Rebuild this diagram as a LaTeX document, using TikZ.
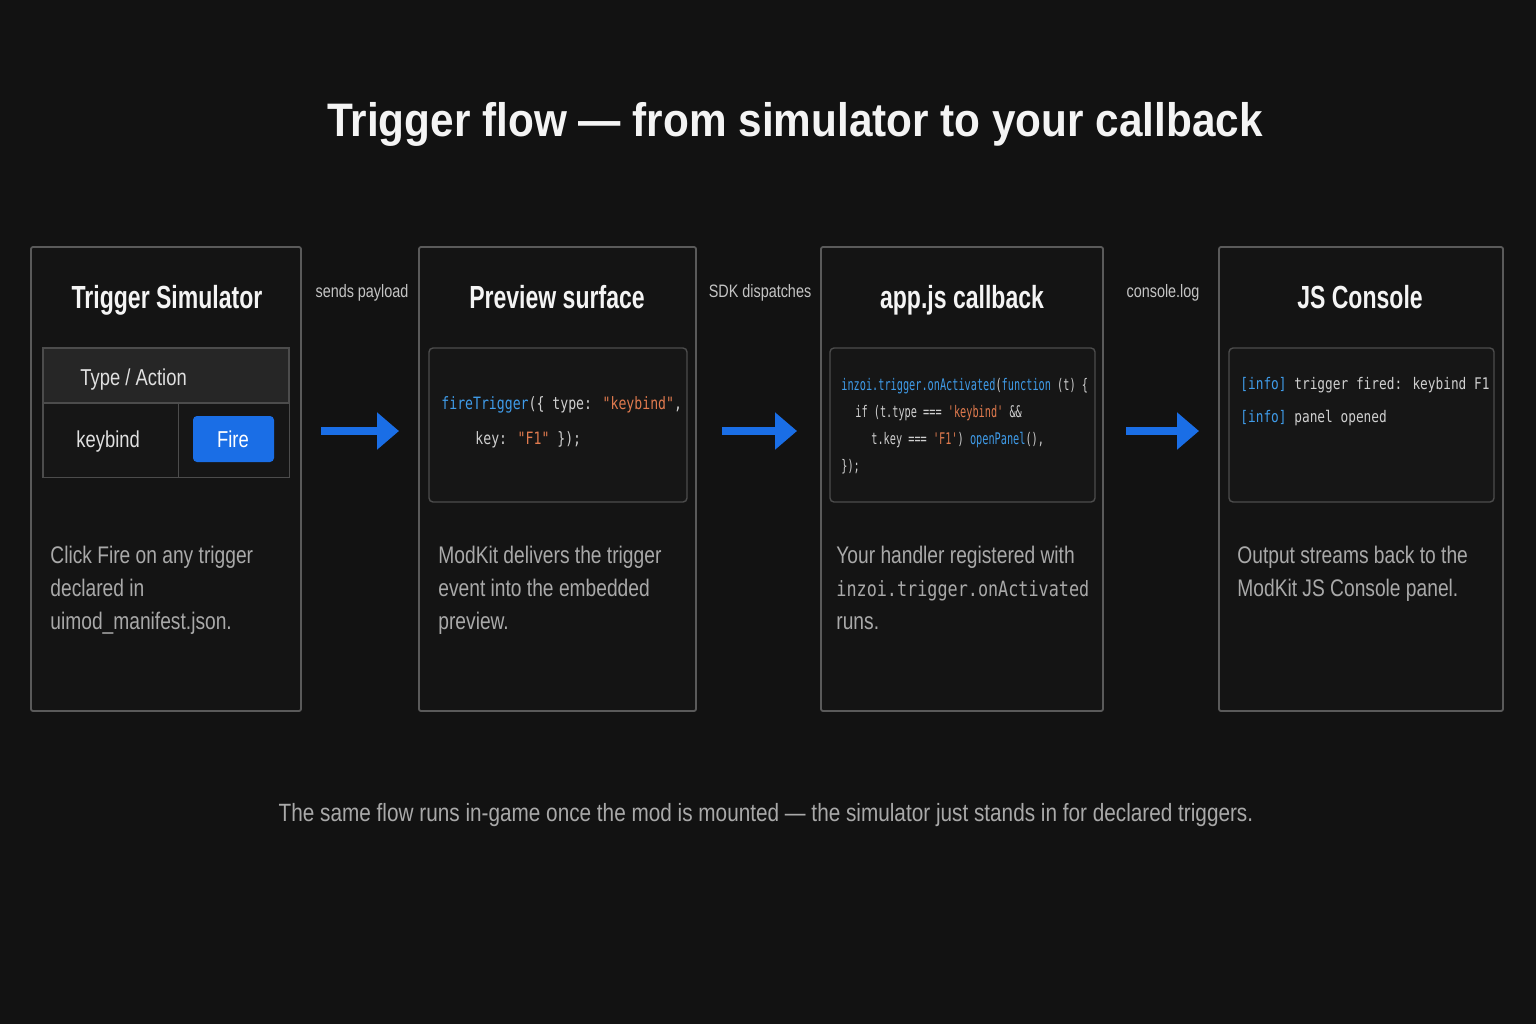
\documentclass[tikz,border=0pt]{standalone}
\usepackage{fontspec}
\usetikzlibrary{arrows.meta,fit}
\setmainfont{Liberation Sans}
\newfontfamily\titlef[FakeStretch=0.9]{Liberation Sans}
\newfontfamily\condf[FakeStretch=0.8]{Liberation Sans}
\newfontfamily\footf[FakeStretch=0.83]{Liberation Sans}
\newfontfamily\condb[FakeStretch=0.72]{Liberation Sans}
\newfontfamily\monoA[FakeStretch=0.8]{DejaVu Sans Mono}
\newfontfamily\monoD[FakeStretch=0.775]{DejaVu Sans Mono}
\newfontfamily\monoB[FakeStretch=0.64]{DejaVu Sans Mono}
\definecolor{bg}{HTML}{121212}
\definecolor{panelfill}{HTML}{141414}
\definecolor{panelline}{HTML}{5A5A5A}
\definecolor{innerline}{HTML}{4C4C4C}
\definecolor{innerfill}{HTML}{161616}
\definecolor{headfill}{HTML}{262626}
\definecolor{bodygray}{HTML}{A9A9A9}
\definecolor{labelgray}{HTML}{C4C4C4}
\definecolor{codegray}{HTML}{CFCFCF}
\definecolor{codeblue}{HTML}{3F9BE8}
\definecolor{codeorange}{HTML}{E07A4E}
\definecolor{arrowblue}{HTML}{1A6EE6}
\definecolor{titlewhite}{HTML}{F4F4F4}
\newcommand{\cb}[1]{\textcolor{codeblue}{#1}}
\newcommand{\co}[1]{\textcolor{codeorange}{#1}}
\tikzset{
  panel/.style={draw=panelline, fill=panelfill, line width=0.9pt, inner sep=0pt, rounded corners=1pt},
  innerbox/.style={draw=innerline, fill=innerfill, line width=0.7pt, inner sep=0pt, rounded corners=2pt},
  boxtitle/.style={font=\condb\bfseries\fontsize{16}{18}\selectfont, text=titlewhite, anchor=base, inner sep=0pt},
  body/.style={font=\condf\fontsize{12}{14}\selectfont, text=bodygray, anchor=base west, inner sep=0pt},
  flowlabel/.style={font=\condf\fontsize{9}{11}\selectfont, text=labelgray, anchor=base, inner sep=0pt},
  codeA/.style={font=\monoD\fontsize{8.5}{10}\selectfont, text=codegray, anchor=base west, inner sep=0pt},
  codeB/.style={font=\monoB\fontsize{8}{9}\selectfont, text=codegray, anchor=base west, inner sep=0pt},
  codeC/.style={font=\monoA\fontsize{8}{10}\selectfont, text=codegray, anchor=base west, inner sep=0pt},
  flowarrow/.style={draw=arrowblue, line width=4pt, -{Triangle[length=11pt,width=18pt]}},
}
\begin{document}
\begin{tikzpicture}[x=0.5pt,y=-0.5pt]
\fill[bg] (0,0) rectangle (1536,1024);
\useasboundingbox (0,0) rectangle (1536,1024);

% main title
\node[font=\titlef\bfseries\fontsize{23.5}{28}\selectfont, text=titlewhite, anchor=base, inner sep=0pt] (title) at (795,136) {Trigger flow — from simulator to your callback};

% panels
\node[panel, fit={(31,247) (301,711)}] (b1) {};
\node[panel, fit={(419,247) (696,711)}] (b2) {};
\node[panel, fit={(821,247) (1103,711)}] (b3) {};
\node[panel, fit={(1219,247) (1503,711)}] (b4) {};

% panel titles
\node[boxtitle] (h1) at (167,308) {Trigger Simulator};
\node[boxtitle] (h2) at (557,308) {Preview surface};
\node[boxtitle] (h3) at (962,308) {app.js callback};
\node[boxtitle] (h4) at (1360,308) {JS Console};

% ---- box 1 table
\node[draw=innerline, fill=innerfill, line width=0.7pt, inner sep=0pt, fit={(43,348) (289,477)}] (tbl) {};
\node[draw=innerline, fill=headfill, line width=0.7pt, inner sep=0pt, fit={(43,348) (289,403)}] (thead) {};
\node[draw=innerline, fill=innerfill, line width=0.5pt, inner sep=0pt, fit={(43,403) (178,477)}] (tcell1) {};
\node[draw=innerline, fill=innerfill, line width=0.5pt, inner sep=0pt, fit={(178,403) (289,477)}] (tcell2) {};
\node[font=\condf\fontsize{11.5}{13}\selectfont, text=titlewhite!92!black, anchor=base west, inner sep=0pt] (typeact) at (80,385) {Type / Action};
\node[font=\condf\fontsize{11.5}{13}\selectfont, text=titlewhite!92!black, anchor=base west, inner sep=0pt] (kb) at (76,447) {keybind};
\node[fill=arrowblue, rounded corners=2pt, inner sep=0pt, fit={(193,416) (274,462)}] (fire) {};
\node[font=\condf\fontsize{11.5}{13}\selectfont, text=white, anchor=base, inner sep=0pt] (firetxt) at (233,447) {Fire};

% ---- box 2 code
\node[innerbox, fit={(429,348) (687,502)}] (c2) {};
\node[codeA] (c2l1) at (441,409) {\cb{fireTrigger}(\{ type: \co{"keybind"},};
\node[codeA] (c2l2) at (475,444) {key: \co{"F1"} \});};

% ---- box 3 code
\node[innerbox, fit={(830,348) (1095,502)}] (c3) {};
\node[codeB] (c3l1) at (841,390) {\cb{inzoi.trigger.onActivated}(\cb{function} (t) \{};
\node[codeB] (c3l2) at (855,417) {if (t.type === \co{'keybind'} \&\&};
\node[codeB] (c3l3) at (871,444) {t.key === \co{'F1'}) \cb{openPanel}(),};
\node[codeB] (c3l4) at (841,471) {\});};

% ---- box 4 console
\node[innerbox, fit={(1229,348) (1494,502)}] (c4) {};
\node[codeC] (c4l1) at (1240,389) {\cb{[info]} trigger fired: keybind F1};
\node[codeC] (c4l2) at (1240,422) {\cb{[info]} panel opened};

% ---- body texts
\node[body] (d1a) at (50,563) {Click Fire on any trigger};
\node[body] (d1b) at (50,596) {declared in};
\node[body] (d1c) at (50,629) {uimod\_manifest.json.};

\node[body] (d2a) at (438,563) {ModKit delivers the trigger};
\node[body] (d2b) at (438,596) {event into the embedded};
\node[body] (d2c) at (438,629) {preview.};

\node[body] (d3a) at (836,563) {Your handler registered with};
\node[body, font=\monoA\fontsize{10.5}{12}\selectfont] (d3b) at (836,596) {inzoi.trigger.onActivated};
\node[body] (d3c) at (836,629) {runs.};

\node[body] (d4a) at (1237,563) {Output streams back to the};
\node[body] (d4b) at (1237,596) {ModKit JS Console panel.};

% ---- flow labels
\node[flowlabel] (l1) at (362,297) {sends payload};
\node[flowlabel] (l2) at (760,297) {SDK dispatches};
\node[flowlabel] (l3) at (1163,297) {console.log};

% ---- arrows
\coordinate (a1s) at (321,431); \coordinate (a1e) at (399,431);
\coordinate (a2s) at (722,431); \coordinate (a2e) at (797,431);
\coordinate (a3s) at (1126,431); \coordinate (a3e) at (1199,431);
\draw[flowarrow] (a1s) -- (a1e);
\draw[flowarrow] (a2s) -- (a2e);
\draw[flowarrow] (a3s) -- (a3e);

% footer
\node[font=\footf\fontsize{12.5}{14}\selectfont, text=bodygray, anchor=base, inner sep=0pt] (foot) at (766,821) {The same flow runs in-game once the mod is mounted — the simulator just stands in for declared triggers.};
\end{tikzpicture}
\end{document}
